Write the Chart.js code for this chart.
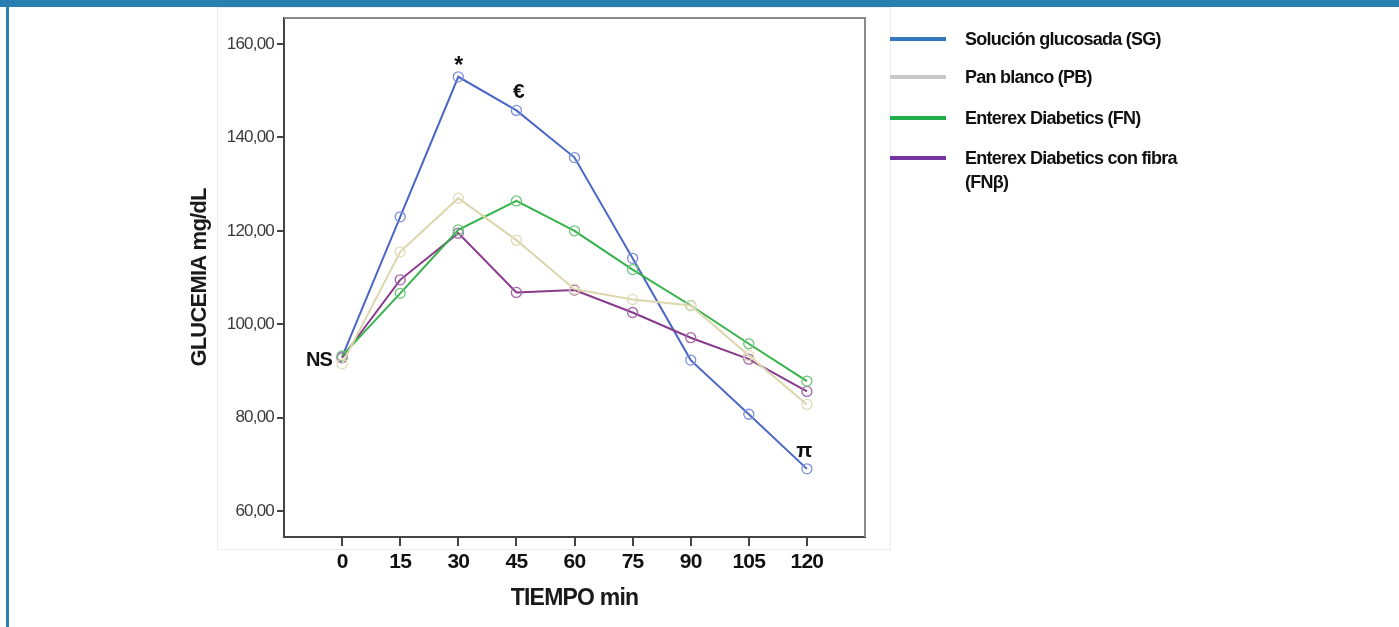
<!DOCTYPE html>
<html>
<head>
<meta charset="utf-8">
<script src="https://cdn.jsdelivr.net/npm/chart.js@4.4.1/dist/chart.umd.min.js"></script>
<style>
  html, body { margin: 0; padding: 0; background: #fff; }
  #wrap { position: relative; width: 1399px; height: 627px; overflow: hidden; }
  #c { position: absolute; left: 0; top: 0; }
  #topbar { position: absolute; left: 0; top: 0; width: 1399px; height: 7px; background: #2980b0; }
  #leftbar { position: absolute; left: 6px; top: 0; width: 3px; height: 627px; background: #2980b0; }
  .lg-line { position: absolute; left: 890px; width: 56px; height: 4px; }
  .lg-text { position: absolute; left: 965px; font-family: "Liberation Sans", Arial, sans-serif; font-weight: bold;
             font-size: 18px; letter-spacing: -0.75px; color: #111; line-height: 24px; white-space: nowrap; }
</style>
</head>
<body>
<div id="wrap">
  <canvas id="c" width="1399" height="627"></canvas>
  <div id="topbar"></div>
  <div id="leftbar"></div>
  <div id="legend"></div>
</div>
<script>
// ---- data ----
const times = [0, 15, 30, 45, 60, 75, 90, 105, 120];
const seriesNames = ["Solución glucosada (SG)", "Pan blanco (PB)", "Enterex Diabetics (FN)", "Enterex Diabetics con fibra\n(FNβ)"];
const sgValues  = [93.0, 123.0, 153.0, 145.8, 135.7, 114.1, 92.3, 80.7, 69.0];
const pbValues  = [91.5, 115.5, 127.0, 118.0, 107.5, 105.3, 104.0, 93.3, 82.8];
const fnValues  = [93.2, 106.6, 120.2, 126.4, 120.0, 111.7, 104.0, 95.8, 87.8];
const fnbValues = [92.8, 109.5, 119.5, 106.8, 107.3, 102.5, 97.1, 92.5, 85.6];
const yTickValues = [60, 80, 100, 120, 140, 160];
const annotations = [
  { text: "NS", series: 0, index: 0 },
  { text: "*",  series: 0, index: 2 },
  { text: "€",  series: 0, index: 3 },
  { text: "π",  series: 0, index: 8 }
];

// ---- styles ----
const FONT = "'Liberation Sans', Arial, sans-serif";
const lineColors   = ["#4a66c6", "#dbd6ac", "#36b24a", "#8a3a8c"];
const pointColors  = ["#7d8fd8", "#e0dbb8", "#6cc47a", "#a566a8"];
const legendColors = ["#3477bd", "#c9c9c9", "#1fae4b", "#7434a0"];
const seriesData = [sgValues, pbValues, fnValues, fnbValues];
const drawOrder = [1, 2, 3, 0];

const datasets = drawOrder.map(i => ({
  label: seriesNames[i],
  data: times.map((t, k) => ({ x: t, y: seriesData[i][k] })),
  borderColor: lineColors[i],
  borderWidth: 2,
  pointRadius: 5,
  pointBorderWidth: 1.3,
  pointBorderColor: pointColors[i],
  pointBackgroundColor: "rgba(0,0,0,0)",
  fill: false,
  tension: 0
}));

// legend (HTML)
const lg = document.getElementById("legend");
const lineTops = [37, 75, 116, 156];
seriesNames.forEach((name, i) => {
  const l = document.createElement("div");
  l.className = "lg-line";
  l.style.top = lineTops[i] + "px";
  l.style.background = legendColors[i];
  lg.appendChild(l);
  const t = document.createElement("div");
  t.className = "lg-text";
  t.style.top = (lineTops[i] + 2 - 12) + "px";
  t.innerHTML = name.split("\n").join("<br>");
  lg.appendChild(t);
});

const framePlugin = {
  id: "frame",
  beforeDraw(chart) {
    const ctx = chart.ctx;
    ctx.letterSpacing = "-0.8px";
    ctx.save();
    ctx.strokeStyle = "#ececec";
    ctx.lineWidth = 1;
    ctx.strokeRect(217.5, 7.5, 673, 542);
    ctx.restore();
  },
  afterDraw(chart) {
    const ctx = chart.ctx;
    const a = chart.chartArea;
    ctx.save();
    ctx.strokeStyle = "#8a8a8a";
    ctx.lineWidth = 2;
    ctx.beginPath();
    ctx.moveTo(a.left, a.top);
    ctx.lineTo(a.right, a.top);
    ctx.lineTo(a.right, a.bottom);
    ctx.stroke();
    const xs = chart.scales.x, ys = chart.scales.y;
    ctx.fillStyle = "#111";
    annotations.forEach(an => {
      const v = seriesData[an.series][an.index];
      const px = xs.getPixelForValue(times[an.index]);
      const py = ys.getPixelForValue(v);
      if (an.text === "NS") {
        ctx.font = "bold 20px " + FONT;
        ctx.textAlign = "right"; ctx.textBaseline = "middle";
        ctx.fillText(an.text, px - 10, py + 4);
      } else {
        ctx.textAlign = "center"; ctx.textBaseline = "alphabetic";
        const dx = an.text === "€" ? 2 : (an.text === "π" ? -3 : 0);
        const dy = an.text === "*" ? -4 : -12;
        ctx.font = an.text === "*" ? "bold 23px " + FONT : "bold 21px " + FONT;
        ctx.fillText(an.text, px + dx, py + dy);
      }
    });
    ctx.restore();
  }
};

new Chart(document.getElementById("c"), {
  type: "line",
  data: { datasets },
  plugins: [framePlugin],
  options: {
    responsive: false,
    animation: false,
    events: [],
    layout: { padding: { left: 0, right: 534, top: 18, bottom: 0 } },
    plugins: { legend: { display: false }, tooltip: { enabled: false } },
    scales: {
      x: {
        type: "linear",
        min: -15, max: 135,
        afterBuildTicks: s => { s.ticks = times.map(v => ({ value: v })); },
        afterFit: s => { s.height = 90; },
        border: { display: true, color: "#444", width: 2 },
        grid: { display: true, drawOnChartArea: false, drawTicks: true, tickLength: 9, color: "#444", lineWidth: 2 },
        ticks: { color: "#111", padding: 4, maxRotation: 0, autoSkip: false,
                 font: { family: FONT, size: 21, weight: "bold" } },
        title: { display: true, text: "TIEMPO min", color: "#1a1a1a",
                 font: { family: FONT, size: 23, weight: "bold" }, padding: { top: 0, bottom: 15 } }
      },
      y: {
        type: "linear",
        min: 54.4, max: 165.6,
        afterBuildTicks: s => { s.ticks = yTickValues.map(v => ({ value: v })); },
        afterFit: s => { s.width = 284; },
        border: { display: true, color: "#444", width: 2 },
        grid: { display: true, drawOnChartArea: false, drawTicks: true, tickLength: 7, color: "#444", lineWidth: 2 },
        ticks: { color: "#3a3a3a", padding: 3, autoSkip: false,
                 callback: v => v.toFixed(2).replace(".", ","),
                 font: { family: FONT, size: 17 } },
        title: { display: true, text: "GLUCEMIA mg/dL", color: "#1a1a1a",
                 font: { family: FONT, size: 22, weight: "bold" }, padding: { top: 187, bottom: 0 } }
      }
    }
  }
});
</script>
</body>
</html>
